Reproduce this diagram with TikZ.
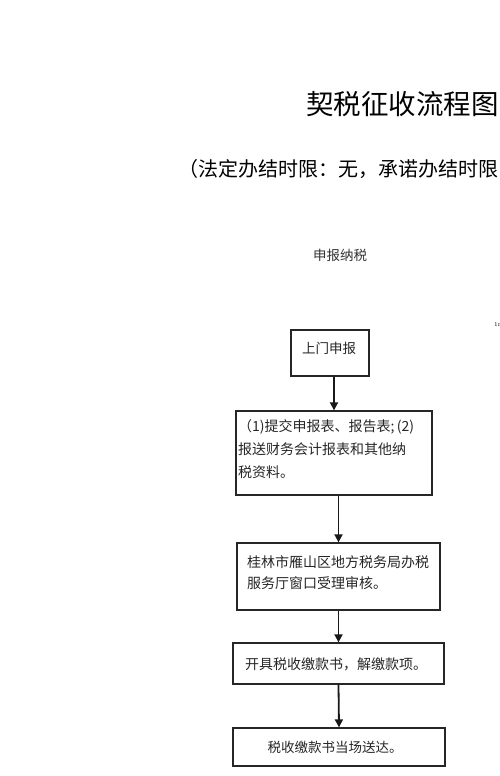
\documentclass[tikz,border=0pt]{standalone}
\usepackage{fontspec}
\newfontfamily\cjk{Noto Sans CJK SC}
\usetikzlibrary{arrows.meta}
\begin{document}
\begin{tikzpicture}[x=1pt,y=-1pt,
  box/.style={draw=black!85, line width=1.3pt, inner sep=0},
  txt/.style={inner sep=0, anchor=west, font=\cjk\fontsize{14}{23}\selectfont, align=left, text=black!85},
  arr/.style={line width=1.8pt, draw=black!90, -{Triangle[width=8pt,length=8pt]}}]
\useasboundingbox (0,0) rectangle (500,776);
\clip (0,0) rectangle (500,776);
\node[inner sep=0,anchor=west,font=\cjk\fontsize{27.5}{28}\selectfont] (title) at (306,104) {契税征收流程图};
\node[inner sep=0,anchor=west,font=\cjk\fontsize{20}{20}\selectfont] (sub) at (178,169) {（法定办结时限：无，承诺办结时限};
\node[inner sep=0,font=\cjk\fontsize{13.5}{14}\selectfont,text=black!80] (sb) at (340,255) {申报纳税};
\node[inner sep=0,anchor=west,font=\fontsize{6}{6}\selectfont] (m) at (494,325) {1r};
% boxes
\node[box, minimum width=78, minimum height=46] (b1) at (330,353) {};
\node[box, minimum width=196, minimum height=84] (b2) at (334,453) {};
\node[box, minimum width=203, minimum height=67] (b3) at (338.5,576.5) {};
\node[box, minimum width=211, minimum height=41] (b4) at (338.5,663.5) {};
\node[box, minimum width=212, minimum height=38] (b5) at (339,747) {};
% texts
\node[txt, font=\cjk\fontsize{13.5}{14}\selectfont] (t1) at (302,348) {上门申报};
\node[txt] (t2) at (238,449) {（1)提交申报表、报告表;\,(2)\\报送财务会计报表和其他纳\\税资料。};
\node[txt, font=\cjk\fontsize{14}{21}\selectfont] (t3) at (247,572.5) {桂林市雁山区地方税务局办税\\服务厅窗口受理审核。};
\node[txt] (t4) at (245,664) {开具税收缴款书，解缴款项。};
\node[txt, anchor=center, font=\cjk\fontsize{13.5}{14}\selectfont] (t5) at (335,747) {税收缴款书当场送达。};
% arrows
\draw[arr] (b1.south -| b2.north) -- (b2.north);
\draw[arr] (b3.north |- b2.south) -- (b3.north);
\draw[arr] (b3.south) -- (b4.north);
\draw[arr] (b4.south) -- (b5.north);
\end{tikzpicture}
\end{document}
